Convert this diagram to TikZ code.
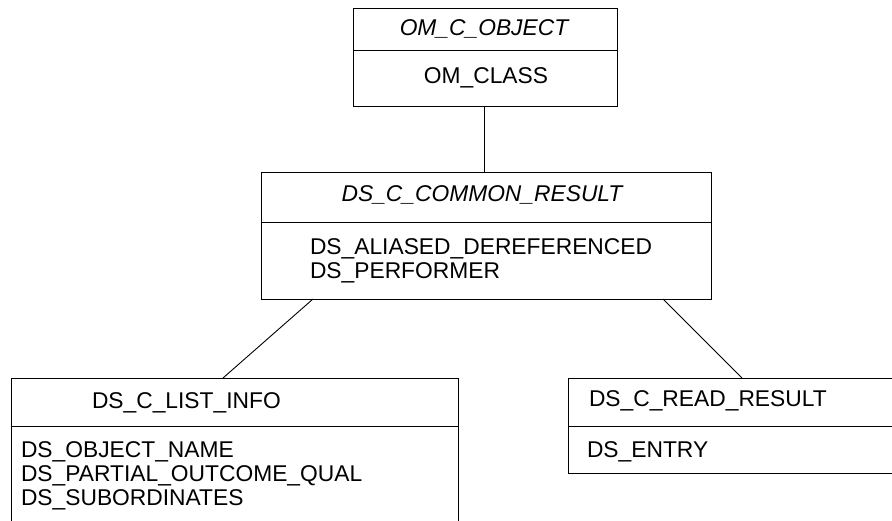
\documentclass[tikz,border=0pt]{standalone}
\usepackage{fontspec}
\setmainfont{Liberation Sans}
\begin{document}
\begin{tikzpicture}[x=1pt,y=-1pt,
  every node/.style={font=\fontsize{22.8}{24}\selectfont, inner sep=0pt, outer sep=0pt},
  classbox/.style={draw=black, line width=1pt, rectangle, inner sep=0pt, outer sep=0pt},
  link/.style={draw=black, line width=0.9pt},
  divline/.style={draw=black, line width=1pt}]
\clip (0,0) rectangle (892,520);
\fill[white] (0,0) rectangle (892,520);
% boxes
\node[classbox, minimum width=263.5pt, minimum height=98.4pt] (om) at (485.25,57.5) {};
\node[classbox, minimum width=450pt, minimum height=127pt] (common) at (486,235.5) {};
\node[classbox, minimum width=447pt, minimum height=170pt] (list) at (234.5,463) {};
\node[classbox, minimum width=342pt, minimum height=95pt] (read) at (739,425.5) {};
% dividers
\draw[divline] (om.west |- 0,50.7) -- (om.east |- 0,50.7);
\draw[divline] (common.west |- 0,222) -- (common.east |- 0,222);
\draw[divline] (list.west |- 0,426) -- (list.east |- 0,426);
\draw[divline] (read.west |- 0,426) -- (read.east |- 0,426);
% texts
\node[anchor=base] (omt) at (484,35) {\itshape OM\_C\_OBJECT};
\node[anchor=base] (oma) at (486,83) {OM\_CLASS};
\node[anchor=base] (cot) at (482,201) {\itshape DS\_C\_COMMON\_RESULT};
\node[anchor=north west, align=left] (coa) at (310,238.6) {DS\_ALIASED\_DEREFERENCED\\DS\_PERFORMER};
\node[anchor=base west] (lit) at (92,408) {DS\_C\_LIST\_INFO};
\node[anchor=north west, align=left] (lia) at (21,441.6) {DS\_OBJECT\_NAME\\DS\_PARTIAL\_OUTCOME\_QUAL\\DS\_SUBORDINATES};
\node[anchor=base west] (ret) at (589,406) {DS\_C\_READ\_RESULT};
\node[anchor=base west] (rea) at (587,457) {DS\_ENTRY};
% connectors
\draw[link] ([xshift=-1pt]om.south) -- ([xshift=-1pt]om.south |- common.north);
\draw[link] ([xshift=52pt]common.south west) -- ([xshift=212pt]list.north west);
\draw[link] ([xshift=402pt]common.south west) -- ([xshift=174pt]read.north west);
\end{tikzpicture}
\end{document}
